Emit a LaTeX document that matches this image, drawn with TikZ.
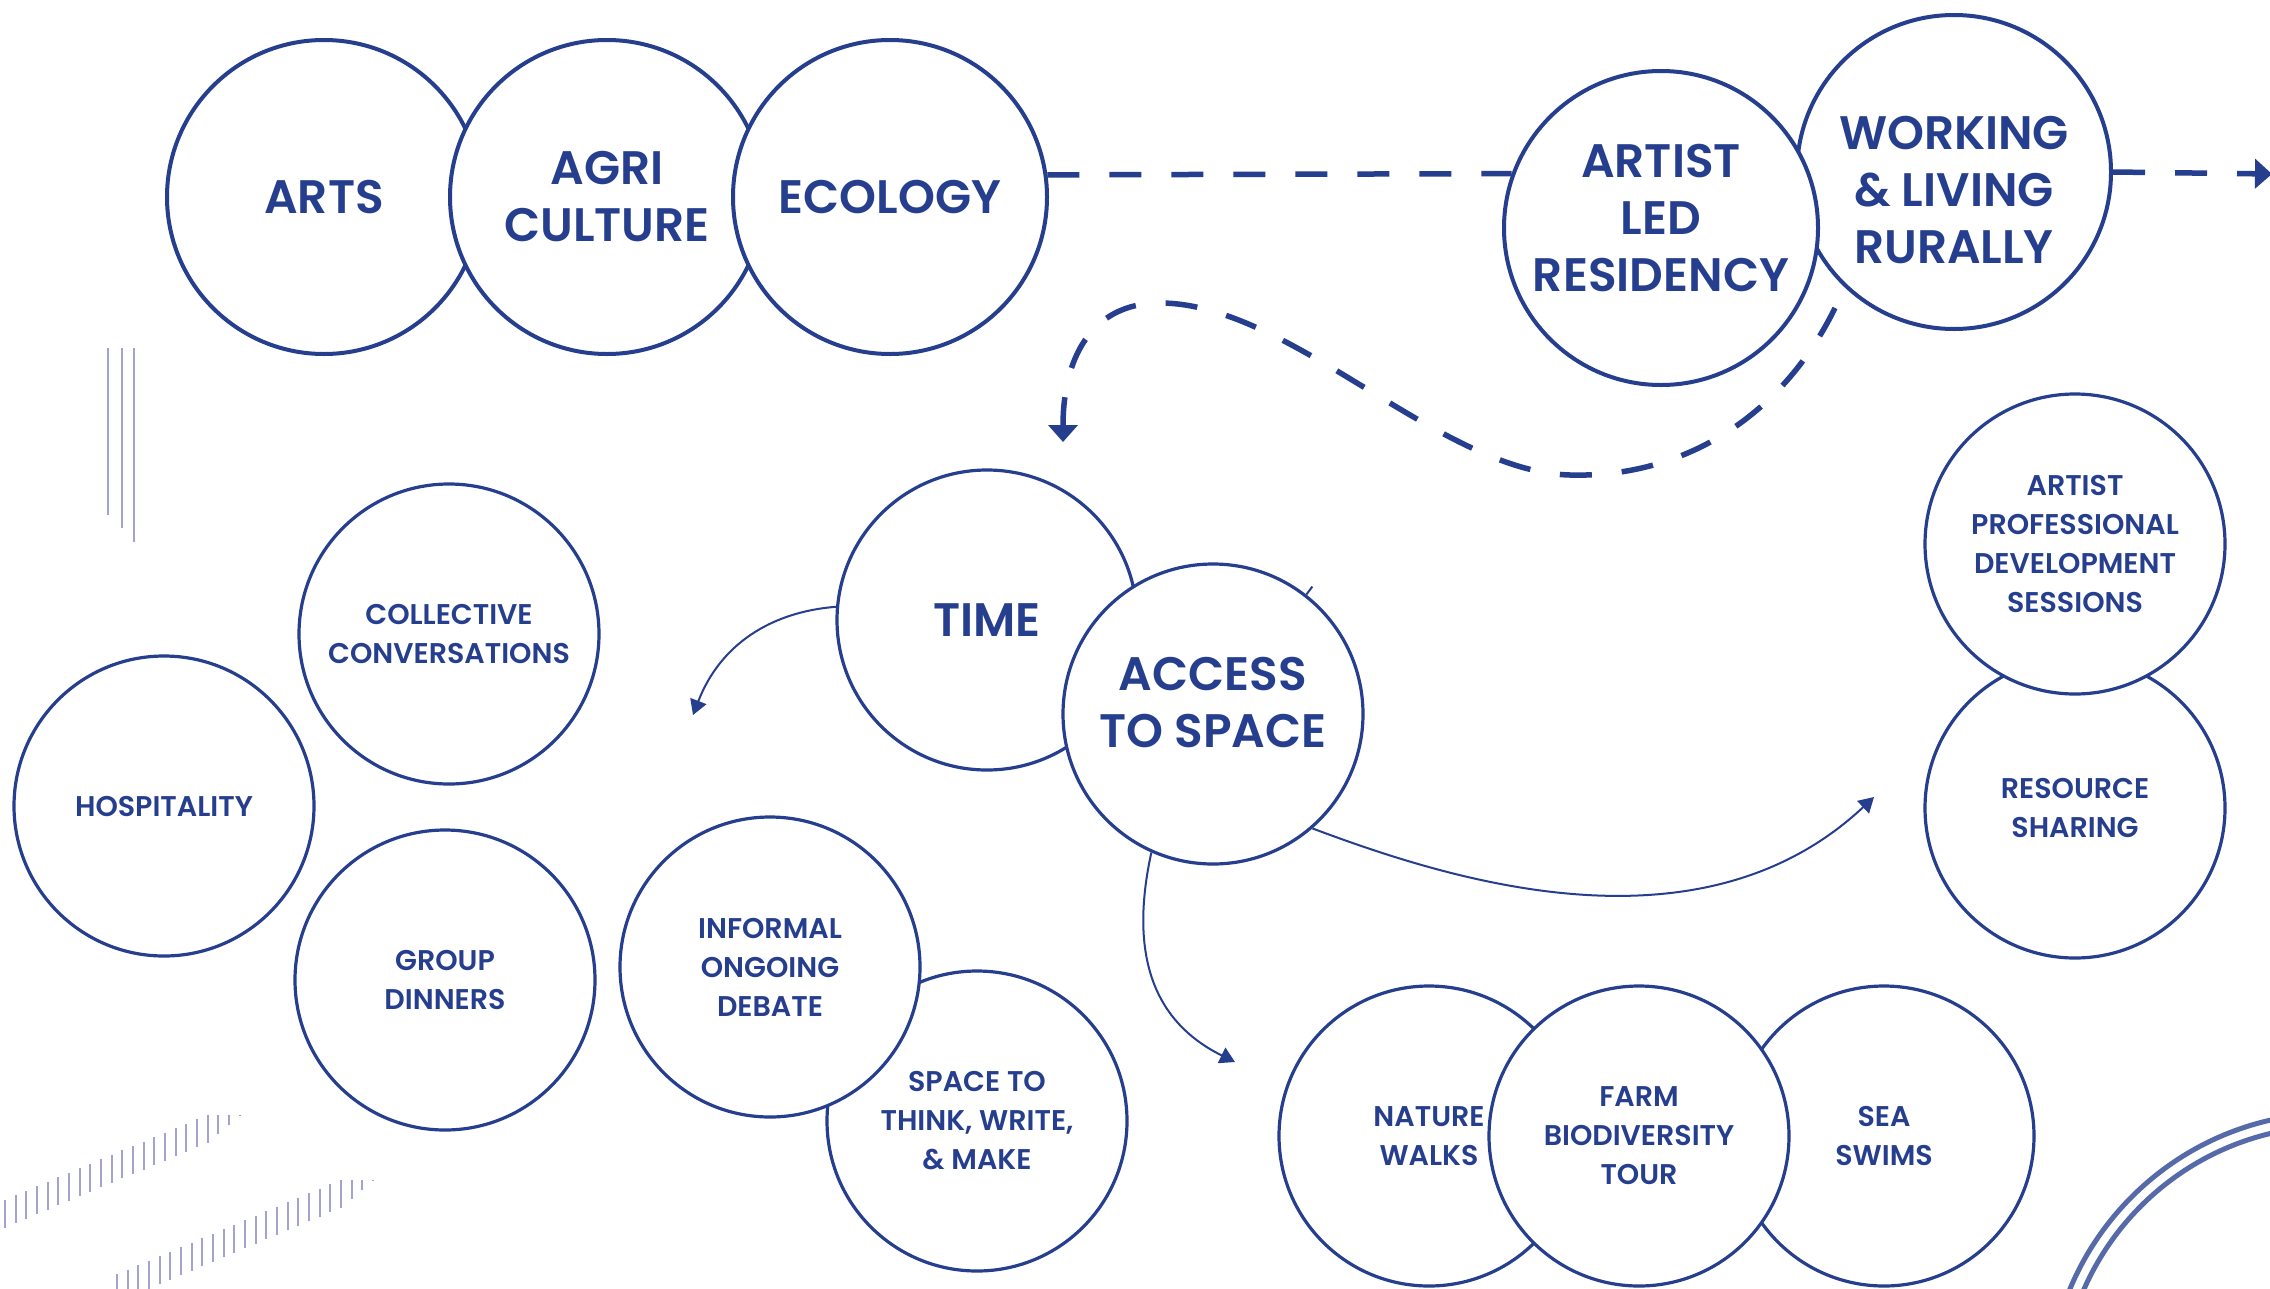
\documentclass[tikz,border=0pt]{standalone}
\usepackage{fontspec}
\setmainfont{Poppins}[BoldFont={Poppins SemiBold}]
\usepackage{tikz}
\usetikzlibrary{arrows.meta}
\definecolor{inkblue}{RGB}{38,62,142}
\definecolor{lilac}{RGB}{164,163,207}
\definecolor{arcblue}{RGB}{86,106,170}
\newcommand\bigtext{\fontsize{47}{57}\selectfont\bfseries}
\newcommand\smalltext{\fontsize{28.5}{39}\selectfont\bfseries}
\tikzset{
  bubble/.style={circle, draw=inkblue, fill=white, line width=3.2pt, minimum size=300pt,
    inner sep=0pt, align=center, text=inkblue, font=\smalltext},
  bigbubble/.style={bubble, line width=4pt, minimum size=314pt, font=\bigtext},
  words/.style={align=center, text=inkblue, font=\bigtext, inner sep=0pt},
  link/.style={draw=inkblue, line width=2pt, -{Triangle[length=15pt,width=17pt]}},
  dashline/.style={draw=inkblue, line width=5.5pt, dash pattern=on 32pt off 30pt},
  dashlink/.style={dashline, -{Triangle[length=17pt,width=29pt]}},
  hatch/.style={draw=lilac, line width=2pt},
  arcline/.style={draw=arcblue, line width=5pt}
}

\begin{document}
\begin{tikzpicture}[x=1pt,y=-1pt]
  \clip (0,0) rectangle (2270,1288);
  \fill[white] (0,0) rectangle (2270,1288);

  %draw decorations
  \draw[hatch] (108,348) -- (108,515);
  \draw[hatch] (122,348) -- (122,528);
  \draw[hatch] (134,348) -- (134,542);
  \foreach \i in {0,...,22} {
    \pgfmathsetmacro\hx{5+10.67*\i}
    \pgfmathsetmacro\hl{\i<20 ? 28 : 28-9*(\i-19)}
    \pgfmathsetmacro\hy{1128.5+0.42*(208-\hx)}
    \draw[hatch] (\hx,{\hy-\hl/2}) -- (\hx,{\hy+\hl/2});
  }
  \foreach \i in {0,...,24} {
    \pgfmathsetmacro\hx{117+10.67*\i}
    \pgfmathsetmacro\hl{\i<22 ? 28 : 28-9*(\i-21)}
    \pgfmathsetmacro\hy{1193.5+0.42*(342-\hx)}
    \draw[hatch] (\hx,{\hy-\hl/2}) -- (\hx,{\hy+\hl/2});
  }
  \draw[arcline] (2334,1399) circle[radius=286pt];
  \draw[arcline] (2334,1399) circle[radius=273pt];

  %draw top row
  \node[bigbubble] (arts) at (324,197) {ARTS};
  \node[bigbubble] (agri) at (607,197) {AGRI\\CULTURE};
  \node[bigbubble] (eco) at (890,197) {ECOLOGY};
  \node[bigbubble] (wlr) at (1954,172) {};
  \node[words] (wlrtext) at ([yshift=-18pt]wlr.center) {WORKING\\\& LIVING\\RURALLY};
  \node[bigbubble] (alr) at (1661,228) {};
  \node[words] (alrtext) at ([yshift=10pt]alr.center) {ARTIST\\LED\\RESIDENCY};

  %draw middle
  \node[bubble, font=\bigtext] (time) at (987,620) {TIME};
  \node[bubble] (access) at (1213,714) {};
  \node[words] (accesstext) at ([yshift=11pt]access.center) {ACCESS\\TO SPACE};

  %draw left group
  \node[bubble] (collective) at (449,634) {COLLECTIVE\\CONVERSATIONS};
  \node[bubble] (hospitality) at (164,806) {HOSPITALITY};
  \node[bubble] (dinners) at (445,980) {GROUP\\DINNERS};
  \node[bubble] (space) at (977,1121) {SPACE TO\\THINK, WRITE,\\\& MAKE};
  \node[bubble] (debate) at (770,967) {INFORMAL\\ONGOING\\DEBATE};

  %draw bottom group
  \node[bubble] (nature) at (1429,1136) {NATURE\\WALKS};
  \node[bubble] (sea) at (1884,1136) {SEA\\SWIMS};
  \node[bubble] (farm) at (1639,1136) {FARM\\BIODIVERSITY\\TOUR};

  %draw right group
  \node[bubble] (sharing) at (2075,808) {RESOURCE\\SHARING};
  \node[bubble] (sessions) at (2075,544) {ARTIST\\PROFESSIONAL\\DEVELOPMENT\\SESSIONS};

  %draw connectors
  \coordinate (edge) at (2272,174);
  \coordinate (loopstart) at (1835,308);
  \coordinate (loopend) at (1063,442);
  \coordinate (gather) at (693,715);
  \coordinate (outdoor) at (1235,1062);
  \coordinate (share) at (1874,797);
  \draw[dashline] (eco.8) -- (alr.160);
  \draw[dashlink] (wlr.east) -- (edge);
  \draw[dashlink] (loopstart) .. controls (1780,420) and (1680,478) .. (1570,475)
    .. controls (1440,472) and (1290,303) .. (1160,303)
    .. controls (1090,303) and (1063,360) .. (loopend);
  \draw[link] (time.175) .. controls (770,612) and (720,645) .. (gather);
  \draw[link] (access.246) .. controls (1130,950) and (1150,1020) .. (outdoor);
  \draw[link] (access.311) .. controls (1450,880) and (1700,960) .. (share);
  \draw[inkblue, line width=2pt] (access.52) -- ++(6,-8);
\end{tikzpicture}
\end{document}
